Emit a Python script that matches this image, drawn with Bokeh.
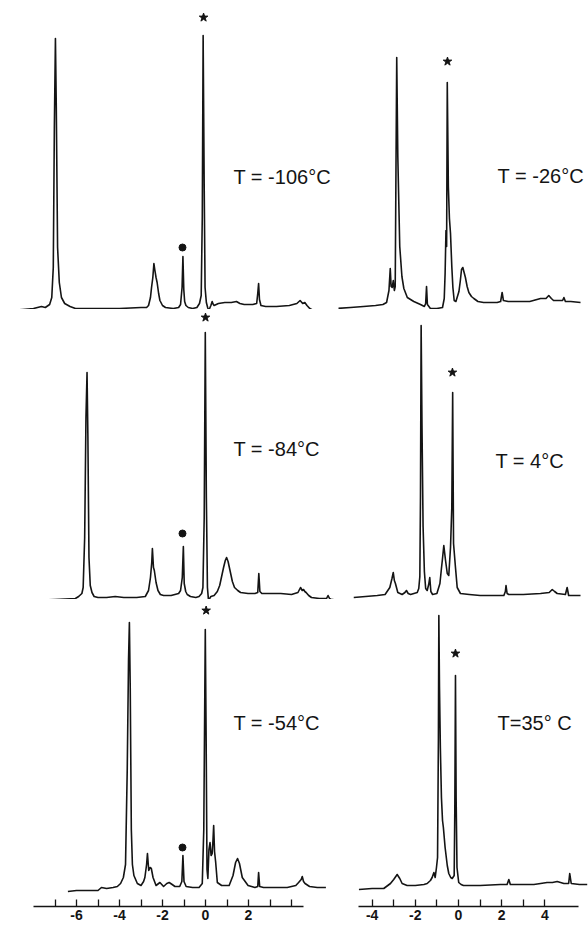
from bokeh.plotting import figure
from bokeh.layouts import gridplot
from bokeh.models import Range1d, FixedTicker
from bokeh.core.properties import value
from bokeh.embed import file_html
from bokeh.resources import INLINE

# ---------------- data (chemical shift in ppm, intensity in arbitrary units) ----------------
A_ppm = [-9.05, -8.5, -8.0, -7.63, -7.45, -7.25, -7.15, -7.08, -7.03, -6.98,
         -6.94, -6.88, -6.80, -6.70, -6.55, -6.3, -6.05, -5.0, -4.0, -3.0,
         -2.74, -2.65, -2.56, -2.51, -2.45, -2.40, -2.36, -2.30, -2.25, -2.18,
         -2.12, -2.0, -1.86, -1.5, -1.25, -1.16, -1.09, -1.05, -1.01, -0.97,
         -0.91, -0.8, -0.6, -0.4, -0.28, -0.20, -0.15, -0.11, -0.06, -0.02,
         0.04, 0.10, 0.15, 0.25, 0.31, 0.34, 0.40, 0.6, 0.9, 1.2,
         1.44, 1.6, 1.8, 2.2, 2.38, 2.43, 2.47, 2.51, 2.58, 2.8,
         3.3, 3.9, 4.25, 4.40, 4.52, 4.62, 4.72, 4.85, 5.02]
A_int = [-3, -2, -1, 1, 0, 3, 10, 40, 180, 269,
         200, 60, 25, 10, 4, 1, -1, -1, -1, 0,
         0, 2, 10, 20, 30, 44, 38, 30, 25, 14,
         7, 2, 0, -1, 0, 3, 20, 51, 18, 6,
         2, 0, -1, 0, 4, 12, 90, 272, 120, 20,
         5, 0, -3, 2, 6, 4, 2, 4, 5, 5,
         6, 4, 3, 3, 4, 14, 24, 8, 2, 1,
         1, 2, 4, 7, 4, 5, 2, -1, -3]

B_ppm = [-8.0, -7.0, -6.05, -5.9, -5.75, -5.69, -5.62, -5.56, -5.51, -5.47,
         -5.42, -5.36, -5.28, -5.18, -5.0, -4.6, -4.2, -3.8, -3.2, -2.8,
         -2.65, -2.56, -2.50, -2.47, -2.42, -2.38, -2.30, -2.21, -2.1, -1.95,
         -1.6, -1.25, -1.16, -1.08, -1.03, -0.99, -0.92, -0.85, -0.7, -0.45,
         -0.3, -0.18, -0.12, -0.06, -0.01, 0.04, 0.09, 0.14, 0.25, 0.40,
         0.55, 0.66, 0.76, 0.84, 0.92, 0.98, 1.05, 1.14, 1.25, 1.35,
         1.5, 1.63, 1.98, 2.3, 2.43, 2.48, 2.53, 2.62, 3.0, 3.5,
         4.0, 4.3, 4.42, 4.5, 4.56, 4.62, 4.68, 4.8, 4.93, 5.3,
         5.63, 5.70, 5.77, 5.84, 5.95]
B_int = [-3, -2, -1, 1, 4, 10, 60, 180, 225, 160,
         40, 12, 5, 1, 0, 0, 1, 0, 0, 1,
         7, 20, 35, 49, 30, 27, 15, 7, 3, 2,
         2, 4, 7, 20, 51, 14, 6, 3, 1, 0,
         1, 4, 10, 80, 265, 100, 10, -3, 1, 2,
         6, 12, 22, 30, 37, 40, 36, 27, 16, 10,
         7, 5, 4, 4, 5, 24, 6, 4, 4, 4,
         3, 5, 10, 7, 8, 6, 5, 2, 0, -1,
         -1, 2, -1, -2, -2]

C_ppm = [-6.4, -6.0, -5.5, -5.0, -4.84, -4.6, -4.3, -4.1, -3.95, -3.82,
         -3.72, -3.64, -3.58, -3.54, -3.50, -3.45, -3.40, -3.33, -3.17, -3.0,
         -2.88, -2.82, -2.74, -2.70, -2.64, -2.58, -2.52, -2.44, -2.30, -2.12,
         -1.95, -1.80, -1.69, -1.55, -1.42, -1.2, -1.10, -1.05, -1.00, -0.9,
         -0.6, -0.3, -0.15, -0.08, -0.01, 0.03, 0.07, 0.11, 0.16, 0.21,
         0.26, 0.31, 0.35, 0.38, 0.42, 0.47, 0.55, 0.75, 1.1, 1.28,
         1.40, 1.49, 1.58, 1.71, 1.98, 2.3, 2.43, 2.47, 2.52, 2.7,
         3.2, 3.8, 4.2, 4.33, 4.45, 4.5, 4.56, 4.63, 4.84, 5.2,
         5.6]
C_int = [-2, -1, -1, -1, 2, 1, 2, 3, 6, 12,
         25, 120, 230, 267, 200, 60, 25, 14, 6, 4,
         8, 12, 25, 36, 19, 22, 21, 12, 4, 7,
         3, 6, 7, 5, 3, 3, 8, 34, 8, 3,
         2, 2, 6, 60, 260, 150, 20, 11, 40, 47,
         34, 36, 50, 64, 38, 28, 7, 4, 4, 14,
         27, 31, 26, 12, 4, 2, 3, 17, 3, 2,
         2, 2, 4, 7, 10, 13, 8, 6, 3, 2,
         2]

D_ppm = [-5.63, -5.0, -4.4, -3.84, -3.5, -3.33, -3.22, -3.16, -3.12, -3.07,
         -3.02, -2.97, -2.93, -2.90, -2.86, -2.81, -2.72, -2.62, -2.53, -2.37,
         -2.07, -1.76, -1.58, -1.52, -1.48, -1.44, -1.3, -1.0, -0.74, -0.66,
         -0.62, -0.58, -0.55, -0.52, -0.47, -0.42, -0.37, -0.31, -0.26, -0.20,
         -0.12, 0.02, 0.08, 0.14, 0.20, 0.26, 0.32, 0.40, 0.48, 0.6,
         0.71, 0.9, 1.16, 1.5, 1.79, 1.95, 2.02, 2.08, 2.3, 2.8,
         3.3, 3.8, 4.05, 4.18, 4.3, 4.4, 4.6, 4.82, 4.88, 4.95,
         5.2, 5.65]
D_int = [-2, -1, 0, 1, 2, 4, 16, 38, 20, 19,
         26, 16, 20, 120, 249, 150, 60, 30, 18, 9,
         5, 2, 0, 3, 20, 2, -2, -2, -1, 8,
         33, 76, 60, 224, 120, 88, 73, 40, 19, 6,
         5, 15, 25, 37, 39, 34, 29, 20, 14, 10,
         8, 5, 4, 4, 4, 5, 14, 6, 5, 5,
         5, 8, 8, 11, 8, 6, 6, 6, 9, 5,
         5, 4]

E_ppm = [-4.85, -4.3, -3.76, -3.4, -3.18, -3.08, -3.02, -2.97, -2.92, -2.81,
         -2.61, -2.48, -2.41, -2.33, -2.22, -1.91, -1.84, -1.79, -1.76, -1.73,
         -1.69, -1.64, -1.58, -1.52, -1.45, -1.38, -1.33, -1.28, -1.2, -1.0,
         -0.86, -0.79, -0.75, -0.68, -0.60, -0.52, -0.45, -0.37, -0.31, -0.27,
         -0.23, -0.14, -0.06, 0.09, 0.5, 1.0, 1.5, 2.1, 2.17, 2.2,
         2.25, 2.33, 3.0, 3.8, 4.2, 4.34, 4.45, 4.57, 4.95, 5.03,
         5.1, 5.65]
E_int = [-1, 0, 1, 2, 9, 18, 24, 16, 13, 4,
         2, 4, 6, 3, 2, 4, 8, 20, 100, 271,
         170, 70, 25, 8, 6, 12, 19, 5, 2, 3,
         13, 28, 36, 51, 36, 23, 21, 49, 89, 204,
         53, 29, 9, 3, 2, 1, 1, 1, 5, 11,
         3, 2, 2, 3, 4, 7, 5, 3, 2, 9,
         1, 1]

F_ppm = [-4.61, -4.0, -3.46, -3.15, -3.0, -2.84, -2.72, -2.61, -2.38, -2.0,
         -1.6, -1.45, -1.30, -1.22, -1.14, -1.08, -1.02, -0.97, -0.93, -0.91,
         -0.88, -0.84, -0.79, -0.74, -0.70, -0.62, -0.52, -0.45, -0.36, -0.29,
         -0.20, -0.17, -0.14, -0.11, -0.07, 0.01, 0.12, 0.23, 0.4, 1.0,
         1.94, 2.25, 2.33, 2.4, 3.0, 3.49, 3.8, 4.1, 4.35, 4.57,
         4.88, 5.1, 5.15, 5.22, 5.6, 5.96]
F_int = [-2, -1, -1, 4, 8, 13, 9, 4, 2, 2,
         3, 4, 7, 10, 15, 10, 20, 30, 150, 272,
         200, 140, 90, 67, 60, 40, 22, 14, 10, 9,
         12, 80, 212, 90, 20, 5, 3, 2, 2, 2,
         3, 3, 8, 3, 3, 3, 4, 5, 5, 6,
         4, 4, 14, 4, 3, 3]

# temperature labels, starred (reference) peaks and dotted peaks
TEMP_LABELS = ["T = -106°C", "T = -84°C", "T = -54°C", "T = -26°C", "T = 4°C", "T=35° C"]
LABEL_PPM = [1.30, 1.30, 1.30, 1.81, 1.71, 1.81]
LABEL_INT = [131, 149, 167, 131, 136, 165]
STAR_PPM = [-0.09, 0.0, 0.03, -0.51, -0.28, -0.14]
STAR_INT = [290, 280, 279, 245, 224, 234]
DOT_PPM = [-1.07, -1.07, -1.07]
DOT_INT = [60, 64, 42]

LEFT_MAJOR = [-6, -4, -2, 0, 2]
LEFT_MINOR = [-7, -5, -3, -1, 1, 3, 4]
LEFT_TICK_LABELS = ["-6", "-4", "-2", "0", "2"]
RIGHT_MAJOR = [-4, -2, 0, 2, 4]
RIGHT_MINOR = [-3, -1, 1, 3]
RIGHT_TICK_LABELS = ["-4", "-2", "0", "2", "4"]

SPECTRA = [(A_ppm, A_int), (B_ppm, B_int), (C_ppm, C_int),
           (D_ppm, D_int), (E_ppm, E_int), (F_ppm, F_int)]

# ---------------- layout ----------------
LEFT_W, RIGHT_W = 338, 250
ROW_H = [309, 290, 307]
LEFT_X = (-9.535, 6.186)
RIGHT_X = (-5.556, 6.019)
Y_RANGES = [(-2, 307), (-2, 288), (-17, 290), (-3, 306), (-3, 287), (-19, 288)]

INK = "#141414"

def make_panel(i):
    col = 0 if i < 3 else 1
    row = i % 3
    bottom = row == 2
    xr = Range1d(*(LEFT_X if col == 0 else RIGHT_X))
    yr = Range1d(*Y_RANGES[i])
    p = figure(frame_width=LEFT_W if col == 0 else RIGHT_W, frame_height=ROW_H[row],
               x_range=xr, y_range=yr, output_backend="svg", toolbar_location=None,
               x_axis_location="below" if bottom else None, y_axis_location=None,
               min_border=0, outline_line_color=None, background_fill_color="white",
               border_fill_color="white")
    p.grid.grid_line_color = None
    xs, ys = SPECTRA[i]
    n = min(len(xs), len(ys))
    p.line(xs[:n], ys[:n], line_color=INK, line_width=1.6, line_join="round")
    p.scatter([STAR_PPM[i]], [STAR_INT[i]], marker="star", size=9,
              fill_color=INK, line_color=INK)
    if i < 3:
        p.scatter([DOT_PPM[i]], [DOT_INT[i]], marker="circle", size=7,
                  fill_color=INK, line_color=INK)
    p.text([LABEL_PPM[i]], [LABEL_INT[i]], text=[TEMP_LABELS[i]],
           text_font=value("Liberation Sans"), text_font_size=value("20px"),
           text_color=INK, text_align="left", text_baseline="middle")
    if bottom:
        ax = p.xaxis[0]
        if col == 0:
            ax.ticker = FixedTicker(ticks=LEFT_MAJOR, minor_ticks=LEFT_MINOR)
            ax.major_label_overrides = {float(v): s for v, s in zip(LEFT_MAJOR, LEFT_TICK_LABELS)}
            ax.bounds = (-8.0, 4.56)
        else:
            ax.ticker = FixedTicker(ticks=RIGHT_MAJOR, minor_ticks=RIGHT_MINOR)
            ax.major_label_overrides = {float(v): s for v, s in zip(RIGHT_MAJOR, RIGHT_TICK_LABELS)}
            ax.bounds = (-4.63, 5.56)
        ax.axis_line_color = INK
        ax.axis_line_width = 1.6
        ax.major_tick_line_color = INK
        ax.minor_tick_line_color = INK
        ax.major_tick_line_width = 1.3
        ax.minor_tick_line_width = 1.3
        ax.major_tick_in = 7
        ax.major_tick_out = 0
        ax.minor_tick_in = 7
        ax.minor_tick_out = 0
        ax.major_label_standoff = 3
        ax.major_label_text_font = "Liberation Sans"
        ax.major_label_text_font_style = "bold"
        ax.major_label_text_font_size = "14px"
        ax.major_label_text_color = INK
    return p

panels = [make_panel(i) for i in range(6)]
grid = gridplot([[panels[0], panels[3]], [panels[1], panels[4]], [panels[2], panels[5]]],
                toolbar_location=None)

open("out.html", "w").write(file_html(grid, INLINE))
